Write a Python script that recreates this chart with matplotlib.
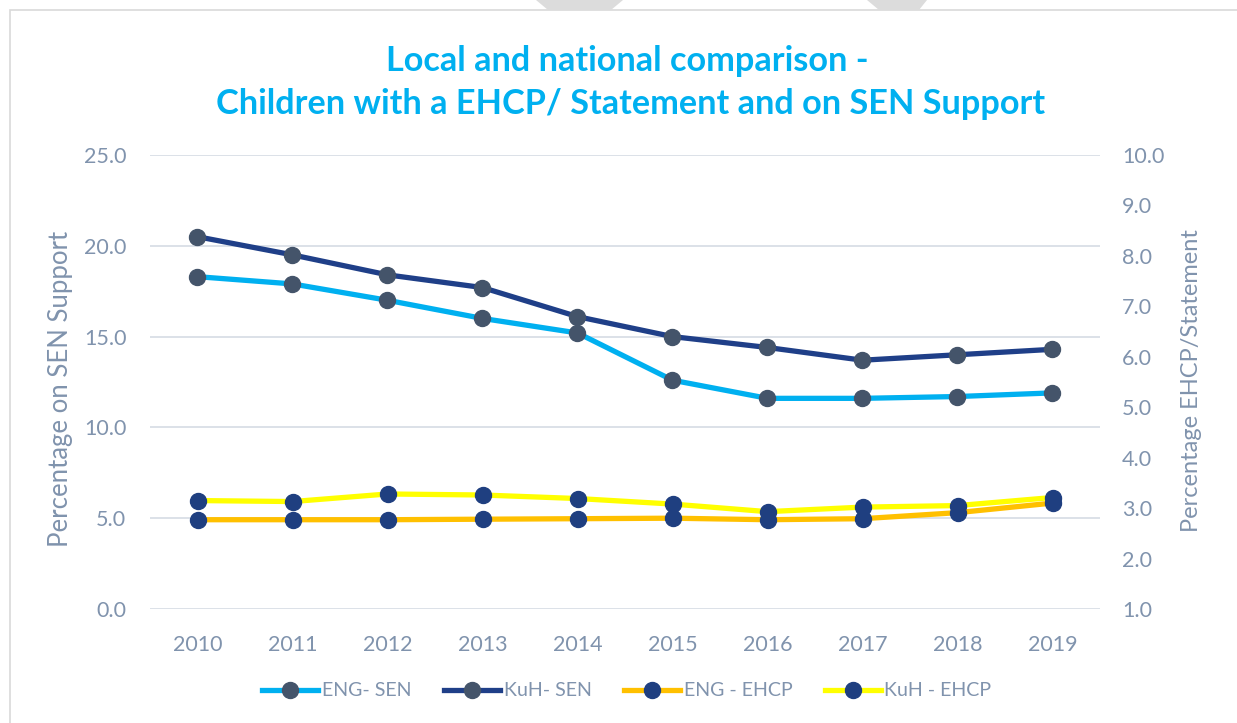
import matplotlib
matplotlib.use("Agg")
import matplotlib.pyplot as plt
from matplotlib.patches import Rectangle, Polygon

years = [2010, 2011, 2012, 2013, 2014, 2015, 2016, 2017, 2018, 2019]
eng_sen = [18.3, 17.9, 17.0, 16.0, 15.2, 12.6, 11.6, 11.6, 11.7, 11.9]
kuh_sen = [20.5, 19.5, 18.4, 17.7, 16.1, 15.0, 14.4, 13.7, 14.0, 14.3]
eng_ehcp = [2.77, 2.77, 2.77, 2.78, 2.79, 2.8, 2.77, 2.79, 2.91, 3.1]
kuh_ehcp = [3.15, 3.13, 3.28, 3.26, 3.19, 3.08, 2.93, 3.02, 3.05, 3.21]
left_ticks = [0, 5, 10, 15, 20, 25]
right_ticks = [1, 2, 3, 4, 5, 6, 7, 8, 9, 10]

FONT = "Lato"
TXT = "#8093AD"
plt.rcParams['font.family'] = [FONT, 'DejaVu Sans']

W, H = 1237, 723
fig = plt.figure(figsize=(W / 100, H / 100), dpi=100)

# outer chart frame and watermark fragments
fig.patches.append(Rectangle((10 / W, -0.1), 1.2, 1 - 10 / H + 0.1, transform=fig.transFigure,
                             fill=False, edgecolor="#D9D9D9", linewidth=1.2))
for pts in ([(536, 0), (623, 0), (611, 10), (548, 10)], [(867, 0), (927, 0), (919, 10), (879, 10)]):
    fig.patches.append(Polygon([(x / W, 1 - y / H) for x, y in pts], closed=True,
                               transform=fig.transFigure, facecolor="#DCDCDC", edgecolor="none"))

ax = fig.add_axes([150 / W, 1 - 609 / H, (1100 - 150) / W, (609 - 155) / H])
ax2 = ax.twinx()

ax.set_xlim(2009.5, 2019.5)
ax.set_ylim(0, 25)
ax2.set_ylim(1, 10)
ax.set_yticks(left_ticks)
ax.set_yticklabels([f"{v:.1f}" for v in left_ticks])
ax2.set_yticks(right_ticks)
ax2.set_yticklabels([f"{v:.1f}" for v in right_ticks])
ax.set_xticks(years)
ax.set_xticklabels([str(y) for y in years])

for a in (ax, ax2):
    for s in a.spines.values():
        s.set_visible(False)
    a.tick_params(length=0, labelsize=15.5, labelcolor=TXT)
ax.tick_params(axis='y', pad=17)
ax.tick_params(axis='x', pad=19)
ax2.tick_params(axis='y', pad=16)
ax.grid(axis='y', color="#D9DEE6", linewidth=1.3)
ax.set_axisbelow(True)

lw = 3.8
ms = 11.5
l1, = ax.plot(years, eng_sen, color="#00B0F0", lw=lw, marker='o', ms=ms,
              mfc="#44546A", mec="#44546A", zorder=3)
l2, = ax.plot(years, kuh_sen, color="#1F3F88", lw=lw, marker='o', ms=ms,
              mfc="#44546A", mec="#44546A", zorder=3)
l3, = ax2.plot(years, eng_ehcp, color="#FFC000", lw=lw, marker='o', ms=ms,
               mfc="#1F3F80", mec="#1F3F80", zorder=3)
l4, = ax2.plot(years, kuh_ehcp, color="#FFFF00", lw=lw, marker='o', ms=ms,
               mfc="#1F3F80", mec="#1F3F80", zorder=3)

ax.set_ylabel("Percentage on SEN Support", fontsize=18.5, color=TXT)
ax2.set_ylabel("Percentage EHCP/Statement", fontsize=17.0, color=TXT)
ax.yaxis.label.set_va('center')
ax2.yaxis.label.set_va('center')
ax.yaxis.set_label_coords(-(150 - 61) / (1100 - 150), (609 - 389) / (609 - 155))
ax2.yaxis.set_label_coords((1192 - 150) / (1100 - 150), (609 - 381) / (609 - 155))

fig.text(627 / W, 1 - 61 / H, "Local and national comparison -", ha='center', va='center',
         fontsize=24.7, fontweight='bold', color="#00B0F0")
fig.text(631 / W, 1 - 104 / H, "Children with a EHCP/ Statement and on SEN Support", ha='center',
         va='center', fontsize=24.7, fontweight='bold', color="#00B0F0")

leg = fig.legend([l1, l2, l3, l4], ["ENG- SEN", "KuH- SEN", "ENG - EHCP", "KuH - EHCP"],
                 loc='center', bbox_to_anchor=(627 / W, 1 - 691 / H), ncol=4, frameon=False,
                 fontsize=14.1, handlelength=2.85, handletextpad=0.2, columnspacing=1.65,
                 labelcolor=TXT)

fig.savefig("out.png", dpi=100)
